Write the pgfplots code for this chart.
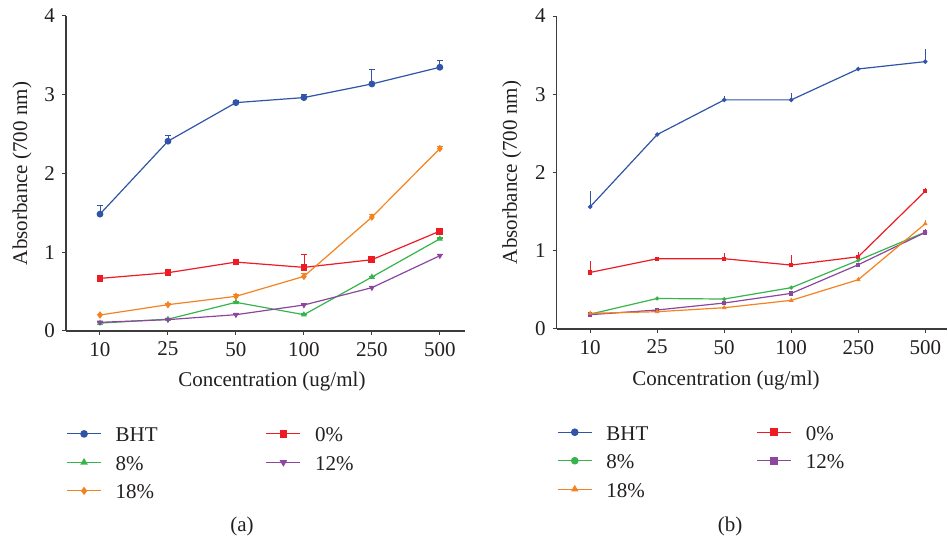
\documentclass[border=0pt]{standalone}
\usepackage{pgfplots}
\pgfplotsset{compat=1.18}
\usepackage{fontspec}
\setmainfont{Liberation Serif}
\definecolor{cblue}{RGB}{48,84,168}
\definecolor{cred}{RGB}{237,28,36}
\definecolor{cgreen}{RGB}{55,180,75}
\definecolor{cpurple}{RGB}{140,70,160}
\definecolor{corange}{RGB}{245,130,32}
\definecolor{ctext}{RGB}{35,31,32}
\definecolor{caxis}{RGB}{60,60,60}
\pgfplotsset{
  myaxis/.style={
    scale only axis,
    anchor=south west,
    axis lines=left,
    axis line style={-,caxis,line width=0.6pt},
    tick style={caxis,line width=0.5pt},
    tick align=outside,
    major tick length=2pt,
    ymin=0, ymax=4, ytick={0,1,2,3,4},
    xmin=-0.5,
    xtick={0,1,2,3,4,5},
    xticklabels={10,25,50,100,250,500},
    font=\fontsize{10.5}{12.6}\selectfont,
    /pgf/number format/assume math mode=true,
    tick label style={text=ctext},
    label style={text=ctext},
    xlabel={Concentration (ug/ml)},
    ylabel={Absorbance (700 nm)},
    every axis plot/.append style={line width=0.6pt},
    legend columns=2,
    legend cell align=left,
    legend image post style={yshift=1pt, mark size=1.6pt},
    legend style={draw=none, fill=none, inner sep=0pt, text=ctext,
      nodes={inner sep=0pt, text height=8pt, text depth=2pt},
      row sep=4.25pt,
      /tikz/every odd column/.append style={column sep=7pt},
      /tikz/every even column/.append style={column sep=54pt},
      anchor=north west},
  }
}
\begin{document}
\begin{tikzpicture}
\path[use as bounding box] (0pt,0pt) rectangle (474pt,269.5pt);
% ---------- (a)
\begin{axis}[myaxis,
  at={(33pt,104pt)}, width=199.5pt, height=157.5pt,
  xmax=5.37,
  ylabel style={at={(axis description cs:-0.110,0.5)},anchor=center},
  xlabel style={at={(axis description cs:0.516,-0.159)},anchor=center},
  legend style={at={(axis description cs:0,-0.30)}},
  error bars/y dir=plus, error bars/y explicit,
  error bars/error mark options={rotate=90,mark size=1.5pt,line width=0.6pt},
]
\addplot[cblue, mark=*, mark size=1.4pt, error bars/error bar style={cblue}] table[x=x,y=y,y error=e]{
x y e
0 1.484 0.11
1 2.41 0.07
2 2.90 0.03
3 2.964 0.04
4 3.137 0.18
5 3.349 0.09
};
\addlegendentry{BHT}
\addplot[cred, mark=square*, mark size=1.4pt, error bars/error bar style={cred}] table[x=x,y=y,y error=e]{
x y e
0 0.668 0.03
1 0.74 0.02
2 0.875 0.02
3 0.808 0.16
4 0.905 0.03
5 1.268 0.02
};
\addlegendentry{0\%}
\addplot[cgreen, mark=triangle*, mark size=1.2pt, error bars/error bar style={cgreen}] table[x=x,y=y,y error=e]{
x y e
0 0.10 0.01
1 0.15 0.01
2 0.364 0.01
3 0.207 0.01
4 0.685 0.01
5 1.17 0.01
};
\addlegendentry{8\%}
\addplot[cpurple, mark=triangle*, mark options={rotate=180}, mark size=1.2pt, error bars/error bar style={cpurple}] table[x=x,y=y,y error=e]{
x y e
0 0.11 0.01
1 0.144 0.01
2 0.207 0.01
3 0.33 0.01
4 0.55 0.02
5 0.956 0.02
};
\addlegendentry{12\%}
\addplot[corange, mark=diamond*, mark size=1.4pt, error bars/error bar style={corange}] table[x=x,y=y,y error=e]{
x y e
0 0.203 0.01
1 0.334 0.01
2 0.44 0.02
3 0.693 0.04
4 1.446 0.03
5 2.317 0.03
};
\addlegendentry{18\%}
\end{axis}
% ---------- (b)
\begin{axis}[myaxis,
  at={(278.35pt,105pt)}, width=195pt, height=156.5pt,
  xmax=5.32,
  ylabel style={at={(axis description cs:-0.115,0.5)},anchor=center},
  xlabel style={at={(axis description cs:0.434,-0.166)},anchor=center},
  legend style={at={(axis description cs:0,-0.303)}},
  error bars/y dir=plus, error bars/y explicit,
  error bars/error mark=none,
]
\addplot[cblue, mark=*, mark size=0.8pt, error bars/error bar style={cblue,line width=0.6pt}] table[x=x,y=y,y error=e]{
x y e
0 1.562 0.20
1 2.485 0.01
2 2.928 0.05
3 2.928 0.09
4 3.323 0.01
5 3.417 0.16
};
\addlegendentry{BHT}
\addplot[cred, mark=square*, mark size=0.8pt, error bars/error bar style={cred,line width=0.6pt}] table[x=x,y=y,y error=e]{
x y e
0 0.723 0.15
1 0.898 0.02
2 0.898 0.07
3 0.817 0.13
4 0.923 0.06
5 1.762 0.04
};
\addlegendentry{0\%}
\addplot[cgreen, mark=*, mark size=0.7pt, error bars/error bar style={cgreen,line width=0.6pt}] table[x=x,y=y,y error=e]{
x y e
0 0.19 0.01
1 0.39 0.01
2 0.383 0.01
3 0.528 0.01
4 0.877 0.01
5 1.238 0.01
};
\addlegendentry{8\%}
\addplot[cpurple, mark=square*, mark size=0.8pt, error bars/error bar style={cpurple,line width=0.6pt}] table[x=x,y=y,y error=e]{
x y e
0 0.183 0.01
1 0.243 0.01
2 0.332 0.01
3 0.455 0.01
4 0.821 0.01
5 1.234 0.04
};
\addlegendentry{12\%}
\addplot[corange, mark=triangle*, mark size=0.8pt, error bars/error bar style={corange,line width=0.6pt}] table[x=x,y=y,y error=e]{
x y e
0 0.20 0.02
1 0.221 0.01
2 0.272 0.01
3 0.366 0.01
4 0.63 0.04
5 1.345 0.05
};
\addlegendentry{18\%}
\end{axis}
\node[font=\fontsize{10.5}{12.6}\selectfont, text=ctext] at (121pt,6.5pt) {(a)};
\node[font=\fontsize{10.5}{12.6}\selectfont, text=ctext] at (365pt,6.5pt) {(b)};
\end{tikzpicture}
\end{document}
